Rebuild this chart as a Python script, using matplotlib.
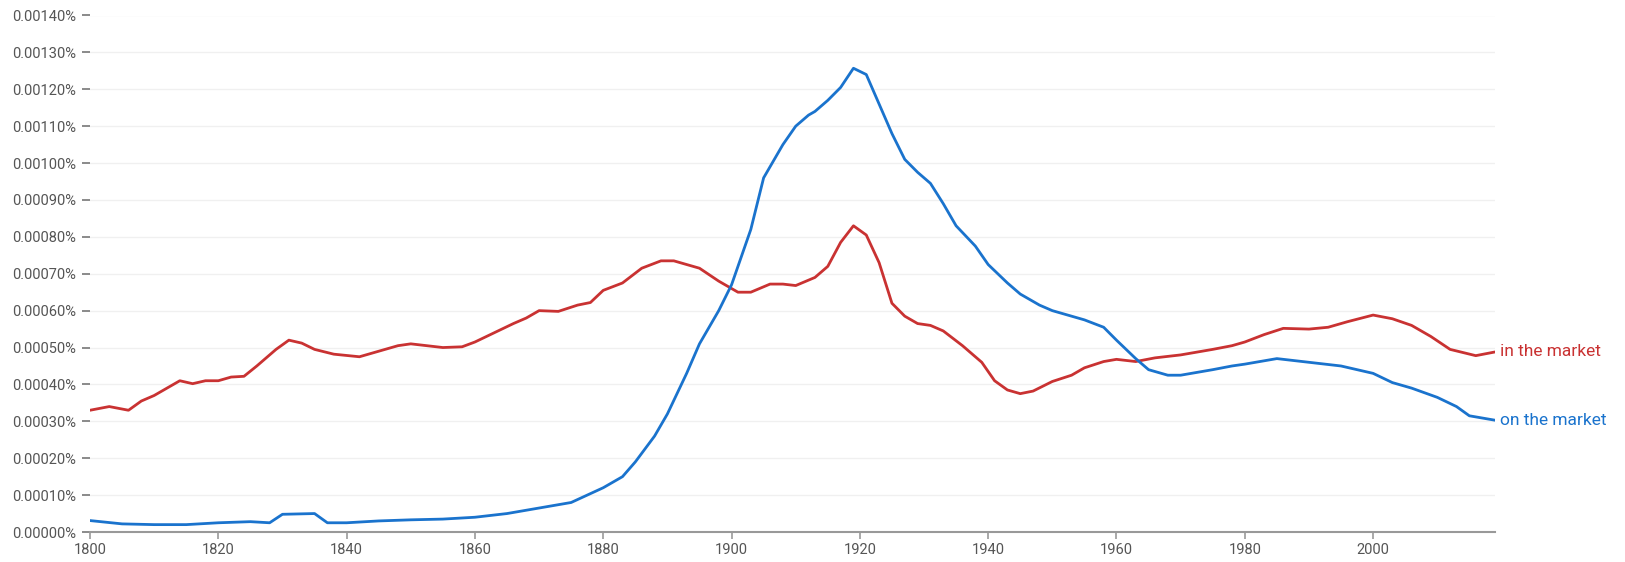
import numpy as np
import matplotlib.pyplot as plt

plt.rcParams["font.family"] = ["Roboto", "DejaVu Sans"]

# on the market (percent)
on_years = [1800, 1805, 1810, 1815, 1820, 1825, 1828, 1830, 1835, 1837, 1840, 1845,
            1850, 1855, 1860, 1865, 1870, 1875, 1880, 1883, 1885, 1888, 1890, 1893,
            1895, 1898, 1900, 1903, 1905, 1908, 1910, 1912, 1913, 1915, 1917, 1919,
            1921, 1923, 1925, 1927, 1929, 1931, 1933, 1935, 1938, 1940, 1943, 1945,
            1948, 1950, 1955, 1958, 1960, 1963, 1965, 1968, 1970, 1975, 1978, 1980,
            1985, 1990, 1995, 2000, 2003, 2006, 2010, 2013, 2015, 2019]
on_vals = [0.000031, 0.000022, 0.000020, 0.000020, 0.000025, 0.000028, 0.000025,
           0.000048, 0.000050, 0.000025, 0.000025, 0.000030, 0.000033, 0.000035,
           0.000040, 0.000050, 0.000065, 0.000080, 0.000120, 0.000150, 0.000190,
           0.000260, 0.000320, 0.000430, 0.000510, 0.000600, 0.000670, 0.000820,
           0.000960, 0.001050, 0.001100, 0.001130, 0.001140, 0.001170, 0.001205,
           0.001257, 0.001240, 0.001160, 0.001080, 0.001010, 0.000975, 0.000945,
           0.000890, 0.000830, 0.000775, 0.000725, 0.000675, 0.000645, 0.000615,
           0.000600, 0.000575, 0.000555, 0.000520, 0.000470, 0.000440, 0.000425,
           0.000425, 0.000440, 0.000450, 0.000455, 0.000470, 0.000460, 0.000450,
           0.000430, 0.000405, 0.000390, 0.000365, 0.000340, 0.000315, 0.000303]

# in the market (percent)
in_years = [1800, 1803, 1806, 1808, 1810, 1812, 1814, 1816, 1818, 1820, 1822, 1824,
            1826, 1829, 1831, 1833, 1835, 1838, 1842, 1845, 1848, 1850, 1855, 1858,
            1860, 1863, 1866, 1868, 1870, 1873, 1876, 1878, 1880, 1883, 1886, 1889,
            1891, 1895, 1898, 1901, 1903, 1906, 1908, 1910, 1913, 1915, 1917, 1919,
            1921, 1923, 1925, 1927, 1929, 1931, 1933, 1936, 1939, 1941, 1943, 1945,
            1947, 1950, 1953, 1955, 1958, 1960, 1963, 1966, 1970, 1975, 1978, 1980,
            1983, 1986, 1990, 1993, 1996, 2000, 2003, 2006, 2009, 2012, 2016, 2019]
in_vals = [0.000330, 0.000340, 0.000330, 0.000355, 0.000370, 0.000390, 0.000410,
           0.000402, 0.000410, 0.000410, 0.000420, 0.000422, 0.000450, 0.000495,
           0.000520, 0.000512, 0.000495, 0.000482, 0.000475, 0.000490, 0.000505,
           0.000510, 0.000500, 0.000502, 0.000515, 0.000540, 0.000565, 0.000580,
           0.000600, 0.000598, 0.000615, 0.000622, 0.000655, 0.000675, 0.000715,
           0.000735, 0.000735, 0.000715, 0.000680, 0.000650, 0.000650, 0.000672,
           0.000672, 0.000668, 0.000690, 0.000720, 0.000785, 0.000830, 0.000805,
           0.000730, 0.000620, 0.000585, 0.000565, 0.000560, 0.000545, 0.000505,
           0.000460, 0.000410, 0.000385, 0.000375, 0.000382, 0.000408, 0.000425,
           0.000445, 0.000462, 0.000468, 0.000462, 0.000472, 0.000480, 0.000495,
           0.000505, 0.000515, 0.000535, 0.000552, 0.000550, 0.000555, 0.000570,
           0.000588, 0.000578, 0.000560, 0.000530, 0.000495, 0.000478, 0.000488]

y_ticks = np.arange(0, 0.00141, 0.0001)
x_ticks = [1800, 1820, 1840, 1860, 1880, 1900, 1920, 1940, 1960, 1980, 2000]

blue = "#1a73cd"
red = "#c93232"

fig = plt.figure(figsize=(16.25, 5.62), dpi=100)
ax = fig.add_axes([90 / 1625, 30 / 562, 1405 / 1625, (532 - 15.5) / 562])

ax.plot(in_years, in_vals, color=red, lw=2.0, solid_joinstyle="round", solid_capstyle="round")
ax.plot(on_years, on_vals, color=blue, lw=2.0, solid_joinstyle="round", solid_capstyle="round")

ax.text(2019 + 0.8, in_vals[-1], "in the market", color=red, fontsize=12.5, va="center", ha="left")
ax.text(2019 + 0.8, on_vals[-1], "on the market", color=blue, fontsize=12.5, va="center", ha="left")

ax.set_xlim(1800, 2019)
ax.set_ylim(0, 0.0014)
ax.set_yticks(y_ticks)
ax.set_yticklabels([f"{v:.5f}%" for v in y_ticks])
ax.set_xticks(x_ticks)
ax.set_xticklabels([str(x) for x in x_ticks])

ax.grid(axis="y", color="#f0f0f0", lw=1)
ax.set_axisbelow(True)
for s in ["top", "right", "left"]:
    ax.spines[s].set_visible(False)
ax.spines["bottom"].set_color("#999999")
ax.spines["bottom"].set_linewidth(1.5)
ax.tick_params(axis="y", length=6, width=1.2, color="#777777", labelcolor="#555555",
               labelsize=10.5, pad=4)
ax.tick_params(axis="x", length=5, width=1.2, color="#999999", labelcolor="#555555",
               labelsize=10.5, pad=3)

fig.savefig("out.png", dpi=100)
